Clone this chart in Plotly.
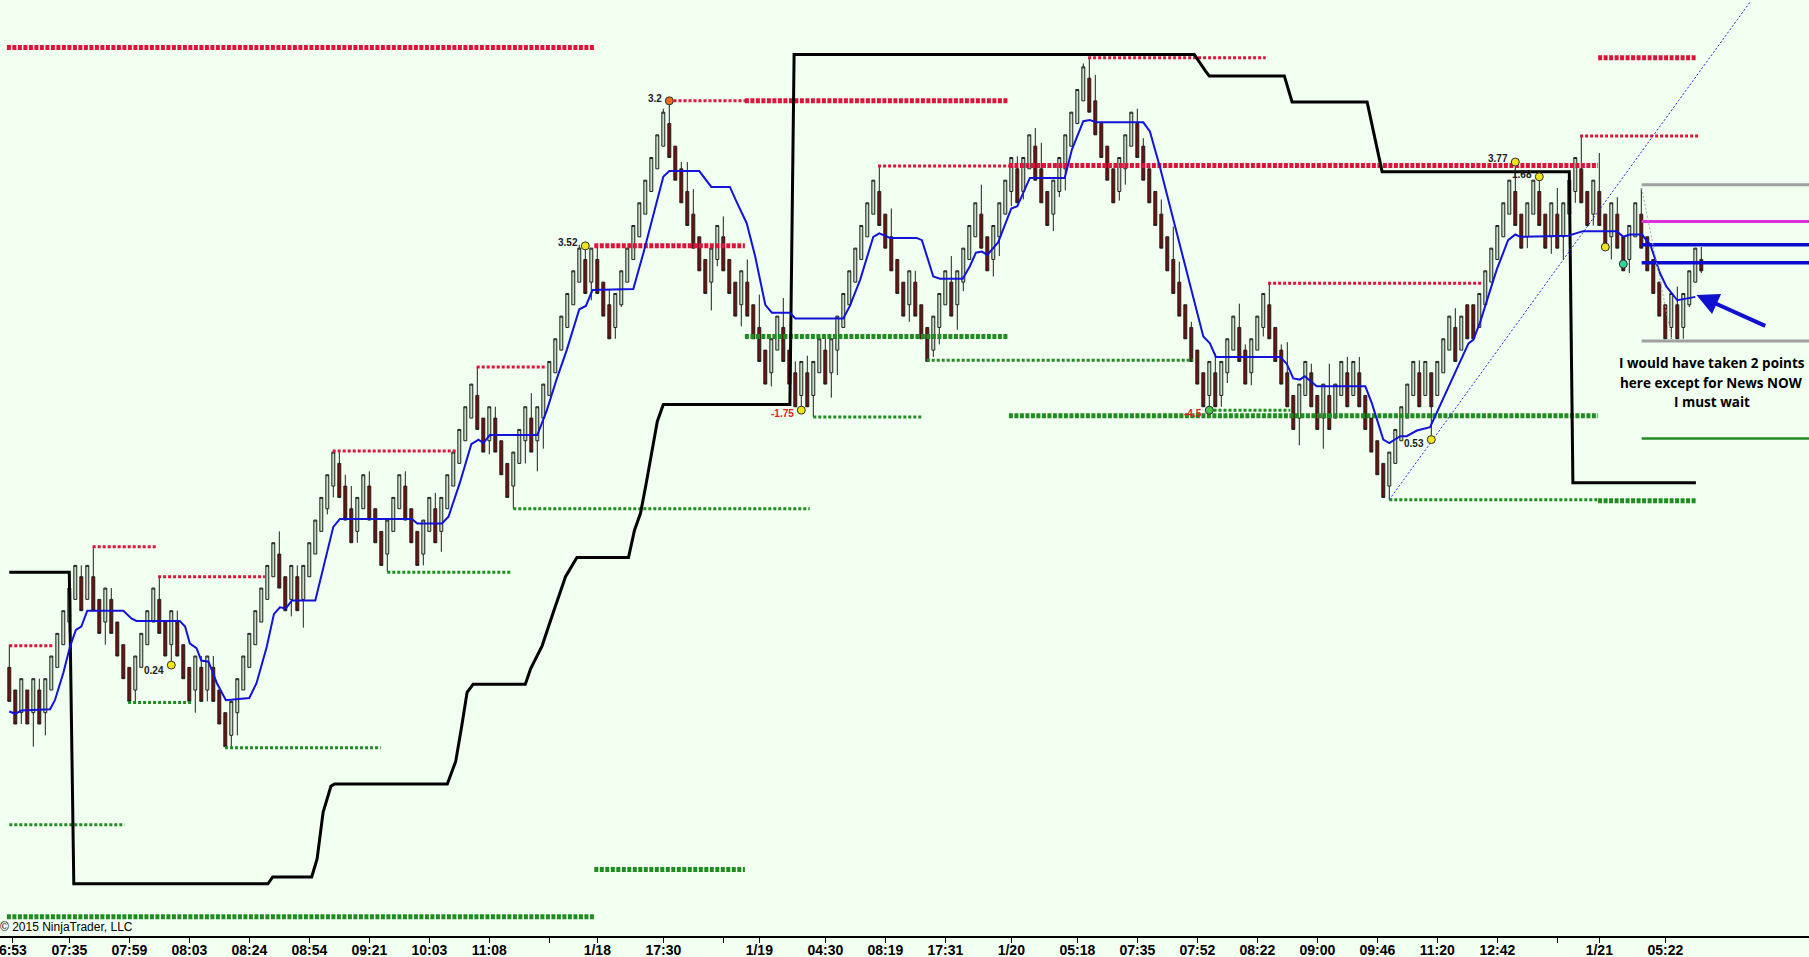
import plotly.graph_objects as go

# range bars, prices in ticks above an arbitrary base
OPEN = [
    23, 21, 19, 21, 19, 21, 19, 21, 23, 25,
    27, 29, 31, 29, 31, 29, 27, 29, 27, 25,
    23, 21, 23, 25, 27, 29, 27, 25, 27, 25,
    23, 21, 23, 21, 23, 21, 19, 17, 19, 21,
    23, 25, 27, 29, 31, 33, 31, 29, 31, 29,
    31, 33, 35, 37, 39, 41, 39, 37, 35, 37,
    39, 37, 35, 33, 35, 37, 39, 37, 35, 33,
    35, 37, 35, 37, 39, 41, 43, 45, 47, 45,
    43, 45, 43, 41, 39, 41, 43, 45, 43, 45,
    47, 49, 51, 53, 55, 57, 59, 57, 59, 57,
    55, 53, 55, 57, 59, 61, 63, 65, 67, 69,
    71, 69, 67, 65, 63, 61, 59, 57, 59, 61,
    59, 57, 55, 57, 55, 53, 51, 49, 51, 53,
    51, 49, 47, 49, 47, 49, 51, 49, 51, 53,
    55, 57, 59, 61, 63, 65, 63, 61, 59, 57,
    55, 57, 55, 53, 51, 53, 55, 57, 55, 57,
    59, 61, 63, 61, 59, 61, 63, 65, 67, 65,
    67, 69, 67, 65, 63, 65, 67, 69, 71, 73,
    75, 73, 71, 69, 67, 65, 67, 69, 71, 69,
    67, 65, 63, 61, 59, 57, 55, 53, 51, 49,
    47, 49, 47, 49, 51, 53, 51, 49, 51, 53,
    55, 53, 51, 49, 47, 45, 47, 49, 47, 45,
    47, 45, 47, 49, 47, 49, 47, 45, 43, 41,
    39, 41, 43, 45, 47, 49, 47, 49, 47, 49,
    51, 53, 51, 55, 55, 53, 55, 57, 59, 61,
    63, 65, 63, 61, 63, 65, 63, 61, 63, 61,
    63, 65, 67, 65, 63, 65, 63, 61, 63, 61,
    59, 61, 63, 61, 59, 57, 55, 53, 55, 53,
    55, 57, 59,
]
HIGH = [
    25, 21, 22, 21, 22, 22, 22, 24, 26, 28,
    30, 32, 32, 32, 33.7, 29, 30, 30, 27, 25,
    23, 24, 26, 28, 30, 31, 27, 28, 28, 25,
    23, 24, 24, 24, 24, 21, 19, 20, 22, 24,
    26, 28, 30, 32, 34, 35, 31, 32, 32, 32,
    34, 36, 38, 40, 42, 42, 40, 39, 38, 40,
    40.3, 37, 35, 36, 38, 40, 40.3, 37, 35, 36,
    38, 38.4, 38, 40, 42, 44, 46, 48, 49.5, 45,
    46, 46, 43, 41, 42, 44, 46, 47.2, 46, 48,
    50, 52, 54, 56, 58, 60.3, 60.4, 60, 60.3, 57,
    56.3, 56, 58, 60, 62, 64, 66, 68, 70, 72.3,
    73, 69, 67.6, 67.6, 65.2, 61, 59, 60, 62, 62.8,
    59, 57, 58, 59, 55, 55.9, 51, 52, 54, 55.6,
    51, 50, 50, 50.5, 50, 52, 52, 52, 54, 56,
    58, 60, 62, 64, 66, 67.3, 63, 63.5, 59, 57,
    58, 58, 55, 53, 54, 56, 58, 59.3, 58, 60,
    62, 64, 65.6, 61, 62, 64, 66, 68, 68.1, 68,
    70, 70.6, 69.3, 65, 66, 68, 70, 72, 74, 76.3,
    76.8, 75.3, 71, 69, 67, 68, 70, 72, 72.3, 69.7,
    67, 65, 64.3, 61, 61.9, 58.8, 55, 53.5, 51, 49,
    50, 50.7, 50, 52, 54, 55.1, 51.5, 52, 54, 56,
    56.9, 53, 51.5, 51.7, 47, 48, 50, 49.8, 47, 48,
    49.8, 48, 50, 50.4, 50, 50.4, 47, 45, 43, 41,
    42, 44, 46, 48, 50, 50.1, 50, 49, 50, 52,
    54, 54.7, 54, 55, 55, 56, 58, 60, 62, 64,
    66, 67.6, 63, 64, 66, 66.3, 63, 64, 65.3, 64,
    66, 68, 70, 65, 66, 68.4, 63, 64, 64.5, 61,
    62, 64, 65.3, 61, 59, 57, 55, 56, 56.6, 56,
    58, 60, 60.1,
]
LOW = [
    20, 18, 18, 18, 16, 18, 17, 21, 23, 25,
    26, 29, 28, 29, 28, 26, 25, 26, 24, 22,
    20, 20, 23, 25, 27, 26, 24, 23.2, 24, 22,
    20, 19, 20, 20, 20, 18, 16, 16, 17, 21,
    23, 25, 27, 29, 31, 30, 28, 27.5, 28, 26.5,
    31, 33, 35, 36.5, 38, 38, 36, 34, 34, 37,
    36, 34, 32, 31.4, 35, 37, 36, 34, 32, 32,
    35, 34, 33.2, 37, 39, 41, 43, 45, 44, 42,
    41.8, 42, 40, 38, 37, 41, 41, 42, 40.3, 42.3,
    47, 49, 51, 53, 55, 57, 56, 55.4, 56, 54,
    52, 52, 54.8, 57, 59, 61, 63, 65, 67, 69,
    68, 66, 64, 62, 60, 58, 56, 54.5, 58.4, 58,
    56, 54, 53.1, 54, 52, 50, 48, 47.8, 51, 50,
    48, 46, 45.7, 46, 45.1, 49, 48, 46.8, 48.8, 53,
    55, 57, 59, 61, 63, 62, 60, 58, 56, 54,
    53.5, 54, 52, 50, 50.4, 51.5, 55, 54, 52.8, 56.2,
    59, 61, 60, 58, 57.5, 59.3, 63, 63.7, 64, 64.3,
    67, 66, 64, 62, 61.5, 64.5, 65.1, 69, 71, 73,
    72, 70, 68, 66, 64, 64.2, 65.6, 69, 68, 66,
    64, 62, 60, 58, 56, 54, 52, 50, 48, 46,
    45.7, 46, 46, 48.1, 51, 50, 48, 47.9, 51, 52.2,
    52, 50, 48, 46, 44, 42.6, 47, 46, 44, 42.3,
    44, 45, 47, 46, 47, 46, 44, 42, 40, 38,
    37.8, 41, 43, 45, 47, 46, 47, 43.1, 47, 49,
    51, 50, 51, 52, 52, 53, 55, 57, 59, 61,
    63, 62, 60, 60, 63, 62, 60, 59.5, 60, 59,
    63, 64, 64, 62, 62, 62, 60, 59, 60, 58,
    57.8, 61, 60, 58, 56, 54, 52, 52, 52, 52,
    54.8, 57, 57.8,
]
CLOSE = [
    20, 18, 22, 18, 22, 18, 22, 24, 26, 28,
    30, 32, 28, 32, 28, 26, 30, 26, 24, 22,
    20, 24, 26, 28, 30, 26, 24, 28, 24, 22,
    20, 24, 20, 24, 20, 18, 16, 20, 22, 24,
    26, 28, 30, 32, 34, 30, 28, 32, 28, 32,
    34, 36, 38, 40, 42, 38, 36, 34, 38, 40,
    36, 34, 32, 36, 38, 40, 36, 34, 32, 36,
    38, 34, 38, 40, 42, 44, 46, 48, 44, 42,
    46, 42, 40, 38, 42, 44, 46, 42, 46, 48,
    50, 52, 54, 56, 58, 60, 56, 60, 56, 54,
    52, 56, 58, 60, 62, 64, 66, 68, 70, 72,
    68, 66, 64, 62, 60, 58, 56, 60, 62, 58,
    56, 54, 58, 54, 52, 50, 48, 52, 54, 50,
    48, 46, 50, 46, 50, 52, 48, 52, 54, 56,
    58, 60, 62, 64, 66, 62, 60, 58, 56, 54,
    58, 54, 52, 50, 54, 56, 58, 54, 58, 60,
    62, 64, 60, 58, 62, 64, 66, 68, 64, 68,
    70, 66, 64, 62, 66, 68, 70, 72, 74, 76,
    72, 70, 68, 66, 64, 68, 70, 72, 68, 66,
    64, 62, 60, 58, 56, 54, 52, 50, 48, 46,
    50, 46, 50, 52, 54, 50, 48, 52, 54, 56,
    52, 50, 48, 46, 44, 48, 50, 46, 44, 48,
    44, 48, 50, 46, 50, 46, 44, 42, 40, 38,
    42, 44, 46, 48, 50, 46, 50, 46, 50, 52,
    54, 50, 54, 52, 52, 56, 58, 60, 62, 64,
    66, 62, 60, 64, 66, 62, 60, 64, 60, 64,
    66, 68, 64, 62, 66, 62, 60, 64, 60, 58,
    62, 64, 60, 58, 56, 54, 52, 56, 52, 56,
    58, 60, 58,
]
BARS = list(range(len(CLOSE)))

# x axis labels (bar index where NinjaTrader put them)
TICK_BARS = [0.6, 10, 20, 30, 40, 50, 60, 70, 80, 90, 98, 109, 119, 125,
             136, 146, 156, 167, 178, 188, 198, 208, 218, 228, 238, 248, 258, 265, 276]
TICK_TEXT = ["6:53", "07:35", "07:59", "08:03", "08:24", "08:54", "09:21", "10:03",
             "11:08", "", "1/18", "17:30", "", "1/19", "04:30", "08:19", "17:31", "1/20",
             "05:18", "07:35", "07:52", "08:22", "09:00", "09:46", "11:20", "12:42", "",
             "1/21", "05:22"]

# trend filter (blue) - breakpoints
MA_X = [0, 1, 2, 6.8, 7.6, 9, 10.1, 11.1, 12, 13, 19, 20.4, 21.2, 28.4, 29.3, 30.1,
        31.2, 32, 33.2, 34.6, 36.1, 40, 41.2, 42.9, 44.1, 45.1, 46.1, 47.1, 51, 52.6,
        54, 55.1, 67.1, 68, 72.1, 73.2, 75.1, 77, 78.2, 79, 80.1, 88, 89.6, 91.2, 92.9,
        95, 96.1, 97.2, 104, 105.7, 107.9, 109, 110, 115, 117, 120.1, 121.2, 122.9,
        124.3, 126, 127.1, 130.1, 131, 139, 140.1, 141.8, 144, 145, 146.8, 151.2, 152.1,
        154, 155.1, 158.9, 160.1, 161.1, 162.1, 163, 164.8, 167, 168, 170.1, 175.9,
        177.1, 179, 180.1, 181.2, 189, 190.1, 191.8, 199, 200.1, 201.1, 211.8, 212.9,
        214, 215.1, 215.9, 217.9, 226, 227.1, 229, 230, 231.8, 232.9, 234.6, 236.8,
        241.2, 243.2, 244, 245.1, 247.9, 249.8, 251, 251.8, 259.8, 262.3, 267.9, 269,
        270.1, 272.1, 273.5, 275.1, 276.2, 278, 279, 281]
MA_Y = [19.1, 18.9, 19.2, 19.3, 20.1, 22.5, 24.8, 26.3, 26.6, 28, 28, 27.3, 27.1, 27.1,
        26.6, 25.1, 24.7, 23.6, 23.5, 21.6, 20.1, 20.3, 21.6, 24.8, 27.7, 28.3, 28.2,
        28.9, 28.9, 32.5, 35.4, 36.1, 36.1, 35.7, 35.7, 36.3, 39.3, 42.7, 43.1, 42.8,
        43.5, 43.5, 45.7, 48.4, 51, 54.6, 54.9, 56.3, 56.4, 59.6, 64, 66.3, 66.8, 66.8,
        65.4, 65.4, 64.1, 62.2, 59.3, 55, 54.3, 54.3, 53.8, 53.8, 54.9, 57.2, 61, 61.3,
        60.9, 60.9, 60.7, 57.5, 57.3, 57.3, 58.4, 59.6, 59.7, 59.4, 60.5, 63.5, 63.7,
        66.2, 66.2, 68.7, 71.2, 71.3, 71.1, 71.1, 70.3, 67.1, 52.2, 51.6, 50.4, 50.4,
        49.8, 48.5, 48.4, 48.7, 47.8, 47.8, 46.3, 43.1, 42.8, 43.4, 43.4, 43.9, 44.2,
        49.3, 51.6, 51.9, 53.4, 58.1, 60.7, 61.2, 61, 61.1, 61.5, 61.5, 61, 61.2, 61.2,
        60.3, 57.8, 56.6, 55.4, 55.5, 55.7]

# stop line (black) - breakpoints
STOP_X = [0, 10, 10.75, 43.1, 43.9, 50.4, 51.3, 52.3, 53.6, 54.2, 73, 74.4, 75.4, 76.3,
          77.3, 86, 86.9, 88.8, 90.7, 92.7, 94.6, 103.2, 104.2, 105.2, 106.1, 107.1, 108,
          109, 130.1, 130.8, 197.5, 199.4, 200, 212.5, 213.8, 226.3, 227.3, 228.8, 260,
          260.6, 281.1]
STOP_Y = [31.4, 31.4, 3.9, 3.9, 4.5, 4.5, 6.1, 10.2, 12.5, 12.7, 12.7, 14.7, 17.8, 20.8,
          21.5, 21.5, 22.9, 24.9, 27.9, 31.0, 32.7, 32.7, 35.1, 36.6, 39.1, 42.2, 44.7,
          46.2, 46.2, 77.1, 77.1, 75.6, 75.2, 75.2, 72.9, 72.9, 70.4, 66.75, 66.75,
          39.3, 39.3]

# swing levels: start bar, end bar, price
RES_SWING = [(0, 7.3, 24.9), (13.9, 24.4, 33.65), (24.8, 42.6, 31.0), (53.9, 74.4, 42.1),
             (77.9, 89.6, 49.5), (110.7, 122.6, 73.0), (144.8, 166.8, 67.25),
             (179.8, 209.4, 76.8), (209.8, 245.4, 56.9), (261.8, 281.5, 69.9)]
SUP_SWING = [(0, 19.2, 9.1), (19.8, 30.4, 19.9), (35.95, 61.9, 15.9), (63, 83.5, 31.4),
             (84, 133.4, 37.0), (134, 152.3, 45.1), (152.9, 197.3, 50.1),
             (200.7, 213.5, 45.7), (230, 264.8, 37.8)]
# session levels
RES_SESSION = [(-0.4, 97.5, 77.7), (97.5, 122.6, 60.2), (122.6, 166.6, 73.0),
               (166.6, 264.8, 67.3), (264.8, 281.1, 76.8)]
SUP_SESSION = [(-0.4, 97.5, 1.0), (97.5, 122.6, 5.15), (122.6, 166.6, 52.2),
               (166.6, 264.8, 45.2), (264.8, 281.1, 37.7)]

# swing point markers
SWING_X = [27, 96, 110, 132, 200, 237, 251, 255, 266, 269]
SWING_Y = [23.2, 60.2, 73.0, 45.7, 45.7, 43.1, 67.6, 66.3, 60.1, 58.6]
SWING_TEXT = ["0.24", "3.52", "3.2", "-1.75", "-4.5", "0.53", "3.77", "1.68", "", ""]
SWING_COLOR = ["#f2e31b", "#f2e31b", "#e8701e", "#f2e31b", "#4cc44c", "#f2e31b",
               "#f2e31b", "#f2e31b", "#f2e31b", "#2fd596"]
SWING_SHIFT = [-5, 3, 2, -3, -3, -4, 4, 2, 0, 0]

# hand-drawn lines on the right
DRAW_START = 272.06
DRAW_END = 299.95
DRAW_LEVELS = [65.6, 51.8, 62.35, 60.3, 58.7, 43.2]
DRAW_COLORS = ["#a0a0a0", "#a0a0a0", "#e030e0", "#0a0ad0", "#0a0ad0", "#228b22"]
DRAW_WIDTHS = [3, 3, 3, 3.5, 3.5, 2.5]
TREND_X = [230, 290.1]
TREND_Y = [37.8, 81.7]
FIB_X = [272.06, 277.06]
FIB_Y = [65.3, 52.05]

NOTE_LINES = ["I would have taken 2 points", "here except for News NOW", "I must wait"]
NOTE_Y = [49.9, 48.1, 46.4]

BG = "#f0fff0"
RED = "#dc143c"
GREEN = "#228b22"
AXIS_FONT = "Liberation Sans Narrow, Arial Narrow, Liberation Sans, Arial"


def segments(levels):
    xs, ys = [], []
    for x0, x1, y in levels:
        xs += [x0, x1, None]
        ys += [y, y, None]
    return xs, ys


fig = go.Figure()

fig.add_trace(
    go.Candlestick(
        x=BARS, open=OPEN, high=HIGH, low=LOW, close=CLOSE,
        increasing=dict(line=dict(color="#1e1e1e", width=1), fillcolor="#c6e0c6"),
        decreasing=dict(line=dict(color="#1e1e1e", width=1), fillcolor="#7d0c0c"),
        whiskerwidth=0,
        hoverinfo="skip",
    )
)

# session levels (bead style) and swing levels (small dots)
for levels, color in [(RES_SESSION, RED), (SUP_SESSION, GREEN)]:
    xs, ys = segments(levels)
    fig.add_trace(go.Scatter(x=xs, y=ys, mode="lines",
                             line=dict(color=color, width=5, dash="4px,1.5px")))
for levels, color in [(RES_SWING, RED), (SUP_SWING, GREEN)]:
    xs, ys = segments(levels)
    fig.add_trace(go.Scatter(x=xs, y=ys, mode="lines",
                             line=dict(color=color, width=3, dash="3px,2px")))

fig.add_trace(go.Scatter(x=STOP_X, y=STOP_Y, mode="lines",
                         line=dict(color="black", width=3)))
fig.add_trace(go.Scatter(x=MA_X, y=MA_Y, mode="lines",
                         line=dict(color="#1212d8", width=2)))

# drawing objects
for lvl, col, w in zip(DRAW_LEVELS, DRAW_COLORS, DRAW_WIDTHS):
    fig.add_trace(go.Scatter(x=[DRAW_START, DRAW_END], y=[lvl, lvl], mode="lines",
                             line=dict(color=col, width=w)))
fig.add_trace(go.Scatter(x=TREND_X, y=TREND_Y, mode="lines",
                         line=dict(color="#2a2ae0", width=1, dash="2px,2px")))
fig.add_trace(go.Scatter(x=FIB_X, y=FIB_Y, mode="lines",
                         line=dict(color="#a8a8a8", width=1, dash="2px,2px")))

fig.add_trace(go.Scatter(x=SWING_X, y=SWING_Y, mode="markers",
                         marker=dict(size=8, color=SWING_COLOR,
                                     line=dict(color="#303030", width=1))))

for x, y, t, s in zip(SWING_X, SWING_Y, SWING_TEXT, SWING_SHIFT):
    if not t:
        continue
    fig.add_annotation(x=x, y=y, text="<b>%s</b>" % t, showarrow=False,
                       xanchor="right", yanchor="middle", xshift=-5, yshift=s,
                       font=dict(family="Liberation Sans, Arial", size=10,
                                 color="#e02020" if t.startswith("-") else "#202020"))

fig.add_annotation(x=281.2, y=55.87, ax=292.9, ay=53.08, axref="x", ayref="y",
                   text="", showarrow=True, arrowhead=2, arrowsize=1.1,
                   arrowwidth=4, arrowcolor="#1010d0")

for line, y in zip(NOTE_LINES, NOTE_Y):
    fig.add_annotation(x=283.7, y=y, text="<b>%s</b>" % line, showarrow=False,
                       xanchor="center", yanchor="middle",
                       font=dict(family="Open Sans, Noto Sans", size=13.5, color="black"))

fig.add_annotation(xref="paper", x=0, y=0.1, text="© 2015 NinjaTrader, LLC",
                   showarrow=False, xanchor="left", yanchor="middle", xshift=-2,
                   font=dict(family=AXIS_FONT, size=12, color="black"))

fig.update_layout(
    width=1809,
    height=957,
    margin=dict(l=0, r=0, t=0, b=21),
    paper_bgcolor=BG,
    plot_bgcolor=BG,
    showlegend=False,
    xaxis=dict(
        range=[-1.55, 299.95],
        automargin=False,
        showgrid=False,
        zeroline=False,
        showline=True,
        linecolor="black",
        linewidth=1.5,
        ticks="outside",
        ticklen=5,
        tickcolor="black",
        tickmode="array",
        tickvals=TICK_BARS,
        ticktext=TICK_TEXT,
        ticklabeloverflow="allow",
        ticklabelstandoff=-5,
        tickfont=dict(family=AXIS_FONT, size=14, color="black", weight="bold"),
        rangeslider=dict(visible=False),
    ),
    yaxis=dict(
        range=[-0.71, 81.9],
        automargin=False,
        showgrid=False,
        zeroline=False,
        showticklabels=False,
        ticks="",
    ),
)

fig.write_html(
    "out.html",
    config={"displayModeBar": False},
    post_script="document.body.style.margin='0';document.body.style.overflow='hidden';",
)
